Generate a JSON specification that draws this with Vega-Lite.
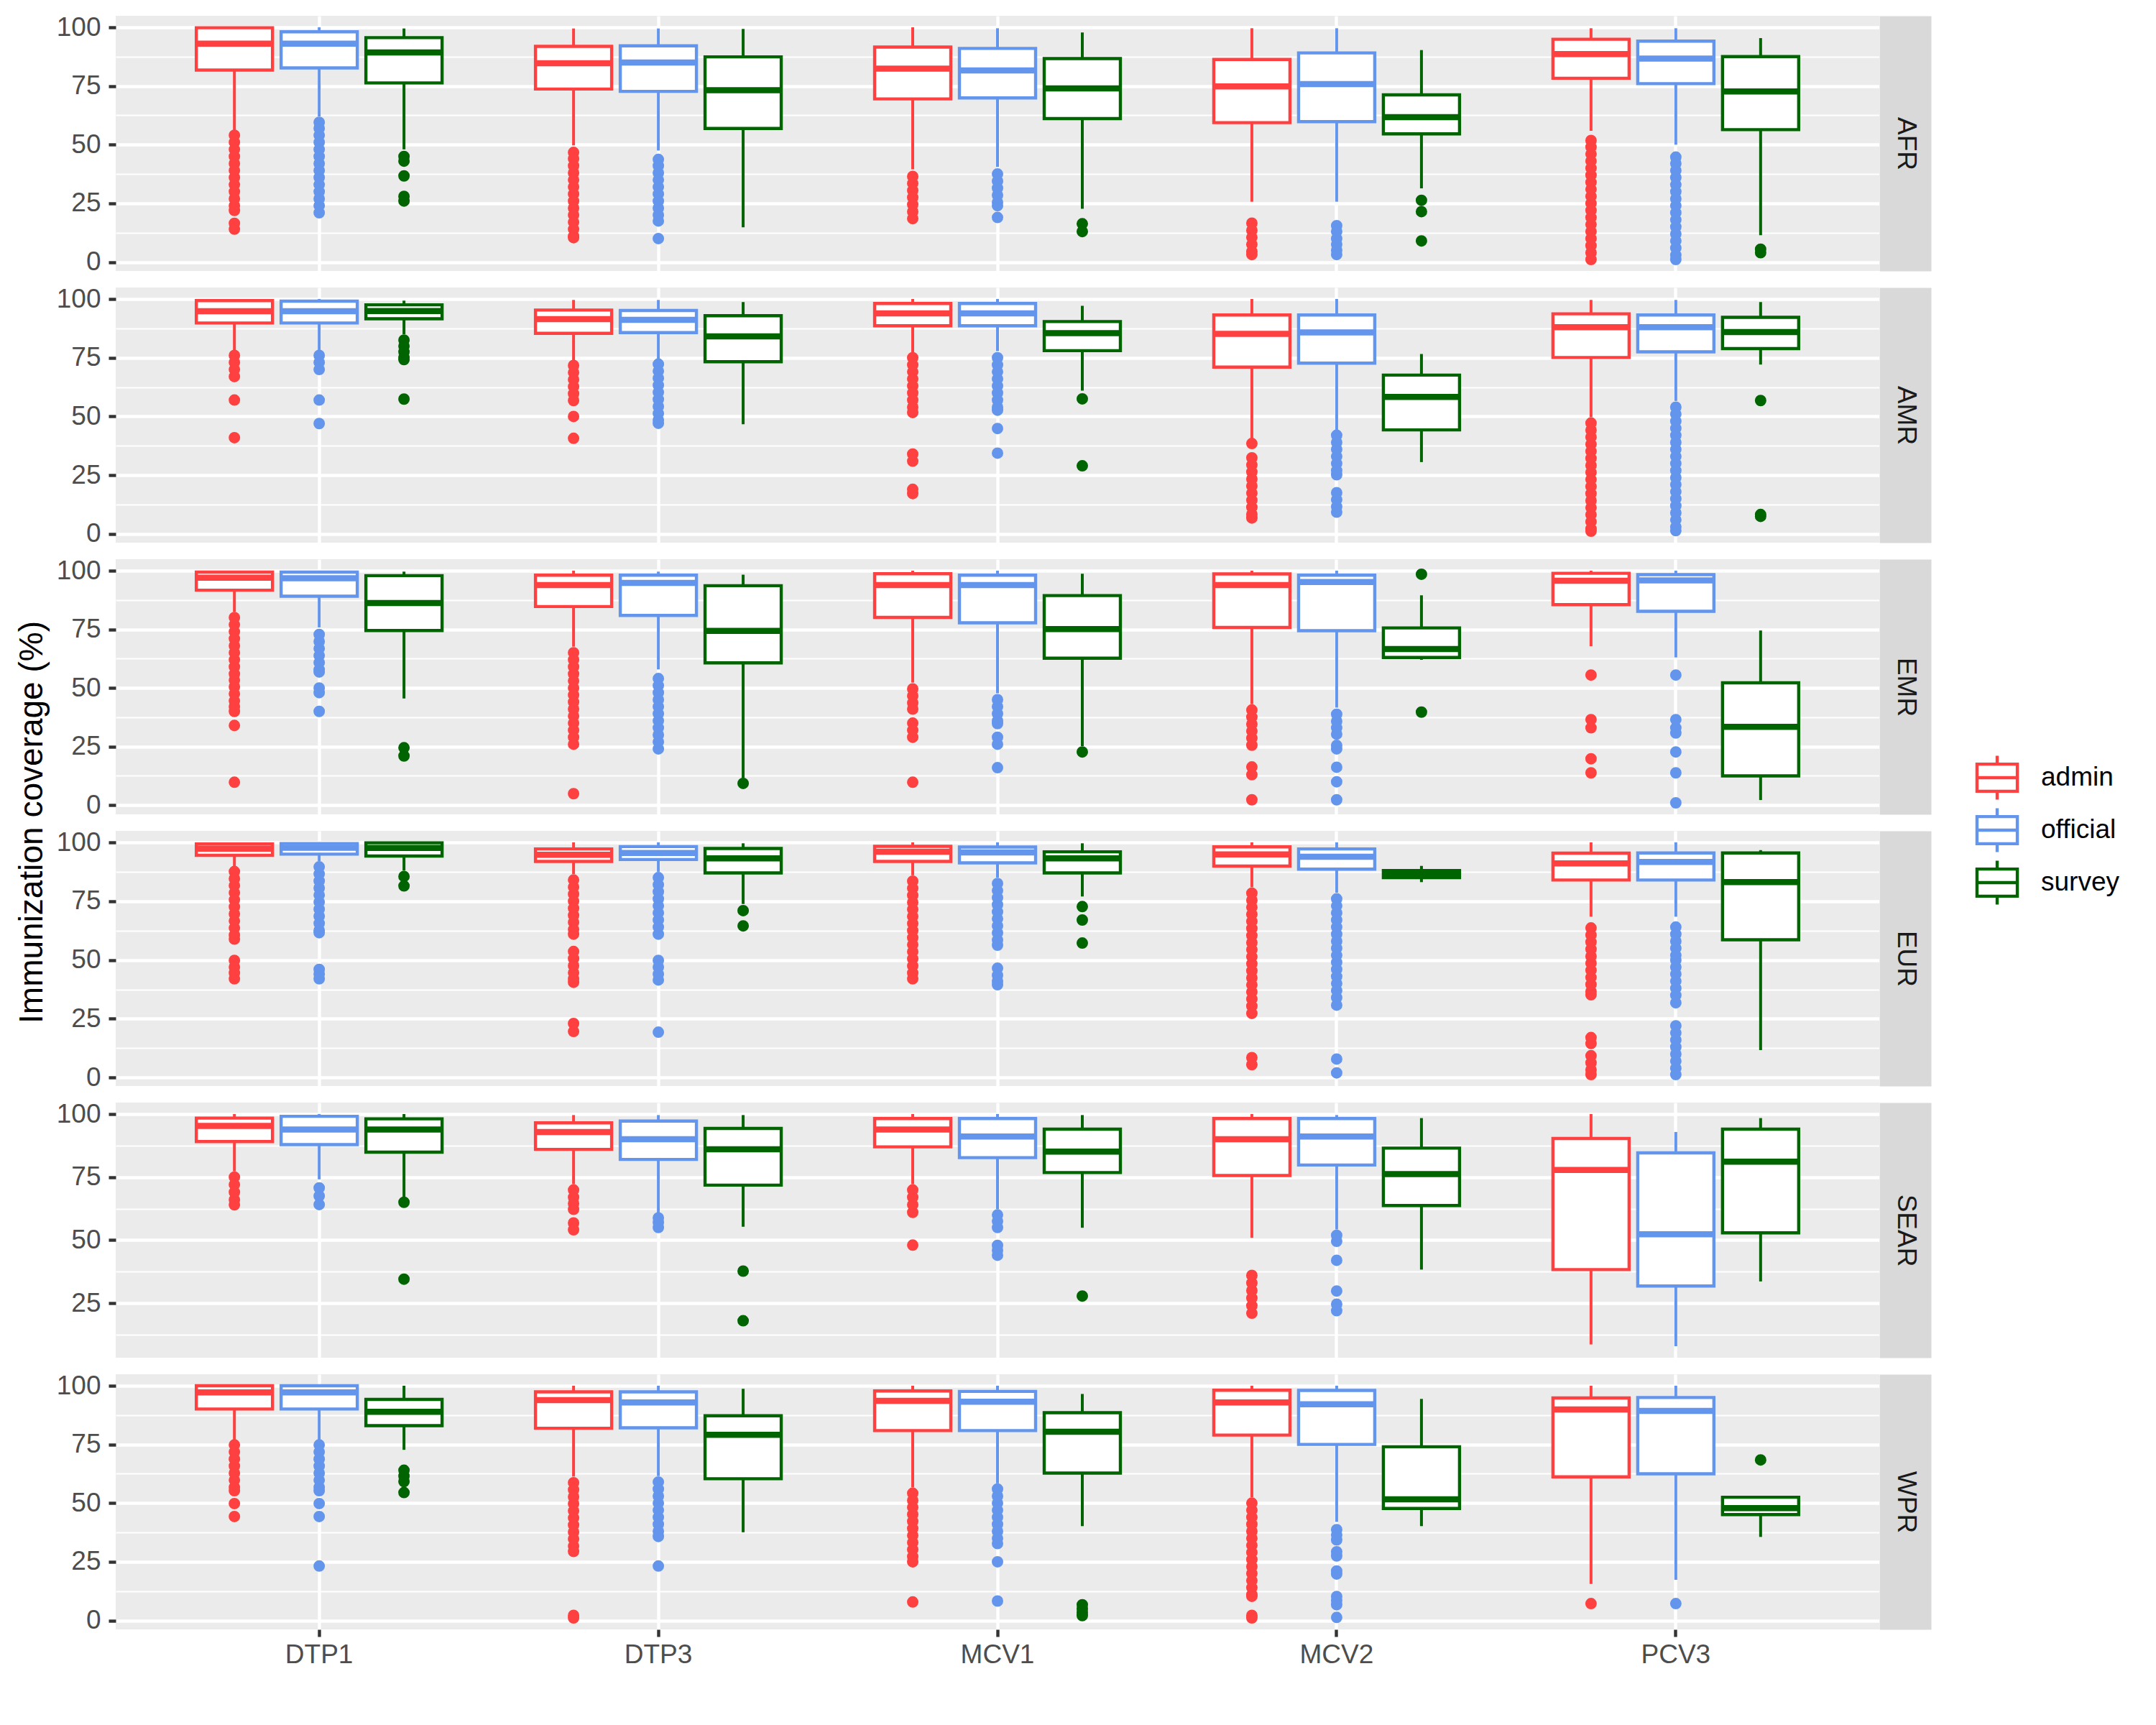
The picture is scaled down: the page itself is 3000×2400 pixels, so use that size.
{
  "$schema": "https://vega.github.io/schema/vega-lite/v6.json",
  "padding": {"left": 20, "top": 19, "right": 5, "bottom": 5},
  "bounds": "flush",
  "spacing": 23,
  "datasets": {
    "boxes": [
      {"r":"AFR","x":"DTP1","s":"admin","lo":56,"q1":81.8,"md":93,"q3":99.8,"hi":100},
      {"r":"AFR","x":"DTP1","s":"official","lo":62,"q1":82.7,"md":93,"q3":98.1,"hi":100},
      {"r":"AFR","x":"DTP1","s":"survey","lo":48,"q1":76.3,"md":89.3,"q3":95.6,"hi":99.5},
      {"r":"AFR","x":"DTP3","s":"admin","lo":49.7,"q1":73.7,"md":84.7,"q3":91.9,"hi":99.5},
      {"r":"AFR","x":"DTP3","s":"official","lo":47.5,"q1":72.7,"md":85,"q3":92.1,"hi":99.5},
      {"r":"AFR","x":"DTP3","s":"survey","lo":14.8,"q1":56.9,"md":73.2,"q3":87.4,"hi":99.3},
      {"r":"AFR","x":"MCV1","s":"admin","lo":39.5,"q1":69.5,"md":82.4,"q3":91.6,"hi":100},
      {"r":"AFR","x":"MCV1","s":"official","lo":40.5,"q1":69.9,"md":81.6,"q3":91,"hi":99.6},
      {"r":"AFR","x":"MCV1","s":"survey","lo":22.7,"q1":61.1,"md":74,"q3":86.7,"hi":97.8},
      {"r":"AFR","x":"MCV2","s":"admin","lo":25.7,"q1":59.4,"md":74.8,"q3":86.3,"hi":99.6},
      {"r":"AFR","x":"MCV2","s":"official","lo":25.7,"q1":59.8,"md":75.8,"q3":89.1,"hi":99.6},
      {"r":"AFR","x":"MCV2","s":"survey","lo":31.4,"q1":54.6,"md":61.7,"q3":71.2,"hi":90.3},
      {"r":"AFR","x":"PCV3","s":"admin","lo":55.9,"q1":78.3,"md":88.6,"q3":94.9,"hi":99.6},
      {"r":"AFR","x":"PCV3","s":"official","lo":50,"q1":76,"md":86.7,"q3":94.1,"hi":99.6},
      {"r":"AFR","x":"PCV3","s":"survey","lo":11.4,"q1":56.4,"md":72.7,"q3":87.5,"hi":95.4},
      {"r":"AMR","x":"DTP1","s":"admin","lo":77,"q1":89.8,"md":94.8,"q3":99.3,"hi":99.6},
      {"r":"AMR","x":"DTP1","s":"official","lo":78,"q1":89.8,"md":94.8,"q3":99.1,"hi":100},
      {"r":"AMR","x":"DTP1","s":"survey","lo":85,"q1":91.6,"md":94.9,"q3":97.5,"hi":99.3},
      {"r":"AMR","x":"DTP3","s":"admin","lo":74,"q1":85.4,"md":91.4,"q3":95.3,"hi":99.6},
      {"r":"AMR","x":"DTP3","s":"official","lo":74.5,"q1":85.7,"md":91.1,"q3":95.1,"hi":99.6},
      {"r":"AMR","x":"DTP3","s":"survey","lo":46.7,"q1":73.3,"md":84.1,"q3":92.9,"hi":98.7},
      {"r":"AMR","x":"MCV1","s":"admin","lo":77.3,"q1":88.6,"md":93.9,"q3":98.1,"hi":100},
      {"r":"AMR","x":"MCV1","s":"official","lo":77.8,"q1":88.6,"md":93.9,"q3":98.1,"hi":100},
      {"r":"AMR","x":"MCV1","s":"survey","lo":61,"q1":78,"md":85.5,"q3":90.4,"hi":97.1},
      {"r":"AMR","x":"MCV2","s":"admin","lo":40.5,"q1":71,"md":85.2,"q3":93.2,"hi":100},
      {"r":"AMR","x":"MCV2","s":"official","lo":44.3,"q1":72.7,"md":85.8,"q3":93.2,"hi":100},
      {"r":"AMR","x":"MCV2","s":"survey","lo":30.6,"q1":44.3,"md":58.3,"q3":67.6,"hi":76.6},
      {"r":"AMR","x":"PCV3","s":"admin","lo":49.7,"q1":75.1,"md":88,"q3":93.7,"hi":99.6},
      {"r":"AMR","x":"PCV3","s":"official","lo":56.6,"q1":77.5,"md":88,"q3":93.2,"hi":99.6},
      {"r":"AMR","x":"PCV3","s":"survey","lo":72.1,"q1":78.9,"md":85.9,"q3":92.2,"hi":98.7},
      {"r":"EMR","x":"DTP1","s":"admin","lo":82.4,"q1":91.7,"md":97,"q3":99.4,"hi":100},
      {"r":"EMR","x":"DTP1","s":"official","lo":75.8,"q1":89.1,"md":96.8,"q3":99.4,"hi":100},
      {"r":"EMR","x":"DTP1","s":"survey","lo":45.5,"q1":74.5,"md":86.2,"q3":97.9,"hi":99.6},
      {"r":"EMR","x":"DTP3","s":"admin","lo":67.6,"q1":84.7,"md":93.9,"q3":98.1,"hi":100},
      {"r":"EMR","x":"DTP3","s":"official","lo":57.9,"q1":80.9,"md":94.8,"q3":98.1,"hi":99.6},
      {"r":"EMR","x":"DTP3","s":"survey","lo":11.5,"q1":60.7,"md":74.3,"q3":93.6,"hi":98.3},
      {"r":"EMR","x":"MCV1","s":"admin","lo":52.3,"q1":80.1,"md":93.9,"q3":98.7,"hi":100},
      {"r":"EMR","x":"MCV1","s":"official","lo":47.7,"q1":77.8,"md":93.9,"q3":98.1,"hi":100},
      {"r":"EMR","x":"MCV1","s":"survey","lo":25.2,"q1":62.7,"md":75.1,"q3":89.4,"hi":98.7},
      {"r":"EMR","x":"MCV2","s":"admin","lo":43.1,"q1":75.8,"md":93.9,"q3":98.6,"hi":100},
      {"r":"EMR","x":"MCV2","s":"official","lo":41.6,"q1":74.4,"md":95.2,"q3":98.1,"hi":100},
      {"r":"EMR","x":"MCV2","s":"survey","lo":62,"q1":63,"md":66.6,"q3":75.6,"hi":89.5},
      {"r":"EMR","x":"PCV3","s":"admin","lo":67.8,"q1":85.5,"md":95.7,"q3":98.9,"hi":100},
      {"r":"EMR","x":"PCV3","s":"official","lo":63,"q1":82.7,"md":95.9,"q3":98.3,"hi":100},
      {"r":"EMR","x":"PCV3","s":"survey","lo":2.2,"q1":12.5,"md":33.4,"q3":52.2,"hi":74.5},
      {"r":"EUR","x":"DTP1","s":"admin","lo":88,"q1":94.5,"md":97.3,"q3":99.3,"hi":100},
      {"r":"EUR","x":"DTP1","s":"official","lo":92,"q1":95,"md":97.7,"q3":99.5,"hi":100},
      {"r":"EUR","x":"DTP1","s":"survey","lo":88,"q1":94.2,"md":97.6,"q3":99.8,"hi":100},
      {"r":"EUR","x":"DTP3","s":"admin","lo":86.5,"q1":91.9,"md":94.7,"q3":97.2,"hi":100},
      {"r":"EUR","x":"DTP3","s":"official","lo":87.5,"q1":92.7,"md":95.5,"q3":98.2,"hi":100},
      {"r":"EUR","x":"DTP3","s":"survey","lo":73.8,"q1":87,"md":93.2,"q3":97.4,"hi":99.6},
      {"r":"EUR","x":"MCV1","s":"admin","lo":86,"q1":91.9,"md":96,"q3":98.3,"hi":100},
      {"r":"EUR","x":"MCV1","s":"official","lo":85,"q1":91.3,"md":95.7,"q3":98,"hi":100},
      {"r":"EUR","x":"MCV1","s":"survey","lo":77,"q1":87,"md":93.2,"q3":96,"hi":99.6},
      {"r":"EUR","x":"MCV2","s":"admin","lo":80.9,"q1":89.9,"md":94.9,"q3":98.1,"hi":100},
      {"r":"EUR","x":"MCV2","s":"official","lo":78.6,"q1":88.6,"md":93.9,"q3":97.2,"hi":100},
      {"r":"EUR","x":"MCV2","s":"survey","lo":83.1,"q1":85,"md":86.4,"q3":88,"hi":90},
      {"r":"EUR","x":"PCV3","s":"admin","lo":68.4,"q1":84,"md":91.1,"q3":95.4,"hi":100},
      {"r":"EUR","x":"PCV3","s":"official","lo":68.4,"q1":84,"md":91.7,"q3":95.5,"hi":100},
      {"r":"EUR","x":"PCV3","s":"survey","lo":11.7,"q1":58.6,"md":83.1,"q3":95.5,"hi":96.7},
      {"r":"SEAR","x":"DTP1","s":"admin","lo":77.3,"q1":89.1,"md":95.3,"q3":98.4,"hi":100},
      {"r":"SEAR","x":"DTP1","s":"official","lo":74.1,"q1":87.9,"md":93.9,"q3":99.1,"hi":100},
      {"r":"SEAR","x":"DTP1","s":"survey","lo":67,"q1":84.9,"md":93.9,"q3":98.1,"hi":100},
      {"r":"SEAR","x":"DTP3","s":"admin","lo":72.2,"q1":86,"md":92.9,"q3":96.5,"hi":99.6},
      {"r":"SEAR","x":"DTP3","s":"official","lo":60.8,"q1":82,"md":90,"q3":97.2,"hi":99.6},
      {"r":"SEAR","x":"DTP3","s":"survey","lo":55.3,"q1":71.8,"md":86,"q3":94.3,"hi":99.6},
      {"r":"SEAR","x":"MCV1","s":"admin","lo":72.2,"q1":87,"md":93.9,"q3":98.2,"hi":100},
      {"r":"SEAR","x":"MCV1","s":"official","lo":62.3,"q1":82.7,"md":91.1,"q3":98.2,"hi":100},
      {"r":"SEAR","x":"MCV1","s":"survey","lo":54.9,"q1":76.8,"md":85.1,"q3":94,"hi":99.6},
      {"r":"SEAR","x":"MCV2","s":"admin","lo":50.9,"q1":75.6,"md":90,"q3":98.2,"hi":100},
      {"r":"SEAR","x":"MCV2","s":"official","lo":54.2,"q1":79.8,"md":91.1,"q3":98.2,"hi":99.6},
      {"r":"SEAR","x":"MCV2","s":"survey","lo":38.3,"q1":63.7,"md":76.2,"q3":86.5,"hi":98.4},
      {"r":"SEAR","x":"PCV3","s":"admin","lo":8.6,"q1":38.3,"md":77.8,"q3":90.3,"hi":100},
      {"r":"SEAR","x":"PCV3","s":"official","lo":7.9,"q1":31.8,"md":52.3,"q3":84.6,"hi":92.9},
      {"r":"SEAR","x":"PCV3","s":"survey","lo":33.6,"q1":52.9,"md":81.1,"q3":94,"hi":98.4},
      {"r":"WPR","x":"DTP1","s":"admin","lo":77,"q1":90.1,"md":97.2,"q3":100,"hi":100},
      {"r":"WPR","x":"DTP1","s":"official","lo":77,"q1":90.1,"md":97.2,"q3":100,"hi":100},
      {"r":"WPR","x":"DTP1","s":"survey","lo":72.7,"q1":83,"md":88.9,"q3":94.2,"hi":100},
      {"r":"WPR","x":"DTP3","s":"admin","lo":61.3,"q1":81.9,"md":93.9,"q3":97.4,"hi":100},
      {"r":"WPR","x":"DTP3","s":"official","lo":61.5,"q1":82.1,"md":92.9,"q3":97.4,"hi":100},
      {"r":"WPR","x":"DTP3","s":"survey","lo":37.6,"q1":60.4,"md":79.1,"q3":87.2,"hi":98.7},
      {"r":"WPR","x":"MCV1","s":"admin","lo":56.7,"q1":80.9,"md":93.6,"q3":97.8,"hi":100},
      {"r":"WPR","x":"MCV1","s":"official","lo":58.4,"q1":80.9,"md":93.2,"q3":97.6,"hi":100},
      {"r":"WPR","x":"MCV1","s":"survey","lo":40.2,"q1":62.8,"md":80.4,"q3":88.5,"hi":96.5},
      {"r":"WPR","x":"MCV2","s":"admin","lo":52.5,"q1":79,"md":92.9,"q3":98.1,"hi":100},
      {"r":"WPR","x":"MCV2","s":"official","lo":42,"q1":75,"md":92.1,"q3":98,"hi":100},
      {"r":"WPR","x":"MCV2","s":"survey","lo":40.2,"q1":47.7,"md":51.6,"q3":74,"hi":94.4},
      {"r":"WPR","x":"PCV3","s":"admin","lo":15.6,"q1":61.2,"md":89.9,"q3":94.8,"hi":100},
      {"r":"WPR","x":"PCV3","s":"official","lo":17.3,"q1":62.5,"md":89.3,"q3":95,"hi":100},
      {"r":"WPR","x":"PCV3","s":"survey","lo":35.6,"q1":45.1,"md":47.9,"q3":52.5,"hi":52.6}
    ],
    "outliers": [
      {"r":"AFR","x":"DTP1","s":"admin","v":54},{"r":"AFR","x":"DTP1","s":"admin","v":51},{"r":"AFR","x":"DTP1","s":"admin","v":48},{"r":"AFR","x":"DTP1","s":"admin","v":45},{"r":"AFR","x":"DTP1","s":"admin","v":42},{"r":"AFR","x":"DTP1","s":"admin","v":39},{"r":"AFR","x":"DTP1","s":"admin","v":36},{"r":"AFR","x":"DTP1","s":"admin","v":33},{"r":"AFR","x":"DTP1","s":"admin","v":30},{"r":"AFR","x":"DTP1","s":"admin","v":27},{"r":"AFR","x":"DTP1","s":"admin","v":24},{"r":"AFR","x":"DTP1","s":"admin","v":22},{"r":"AFR","x":"DTP1","s":"admin","v":16.5},{"r":"AFR","x":"DTP1","s":"admin","v":14},
      {"r":"AFR","x":"DTP1","s":"official","v":59.5},{"r":"AFR","x":"DTP1","s":"official","v":57},{"r":"AFR","x":"DTP1","s":"official","v":54},{"r":"AFR","x":"DTP1","s":"official","v":51},{"r":"AFR","x":"DTP1","s":"official","v":48},{"r":"AFR","x":"DTP1","s":"official","v":45},{"r":"AFR","x":"DTP1","s":"official","v":42},{"r":"AFR","x":"DTP1","s":"official","v":39},{"r":"AFR","x":"DTP1","s":"official","v":36},{"r":"AFR","x":"DTP1","s":"official","v":33},{"r":"AFR","x":"DTP1","s":"official","v":30},{"r":"AFR","x":"DTP1","s":"official","v":27},{"r":"AFR","x":"DTP1","s":"official","v":24},{"r":"AFR","x":"DTP1","s":"official","v":21},
      {"r":"AFR","x":"DTP1","s":"survey","v":45},{"r":"AFR","x":"DTP1","s":"survey","v":43},{"r":"AFR","x":"DTP1","s":"survey","v":36.7},{"r":"AFR","x":"DTP1","s":"survey","v":28},{"r":"AFR","x":"DTP1","s":"survey","v":26},
      {"r":"AFR","x":"DTP3","s":"admin","v":46.7},{"r":"AFR","x":"DTP3","s":"admin","v":44},{"r":"AFR","x":"DTP3","s":"admin","v":41},{"r":"AFR","x":"DTP3","s":"admin","v":38},{"r":"AFR","x":"DTP3","s":"admin","v":35},{"r":"AFR","x":"DTP3","s":"admin","v":32},{"r":"AFR","x":"DTP3","s":"admin","v":29},{"r":"AFR","x":"DTP3","s":"admin","v":26},{"r":"AFR","x":"DTP3","s":"admin","v":23},{"r":"AFR","x":"DTP3","s":"admin","v":20},{"r":"AFR","x":"DTP3","s":"admin","v":17},{"r":"AFR","x":"DTP3","s":"admin","v":14},{"r":"AFR","x":"DTP3","s":"admin","v":11},{"r":"AFR","x":"DTP3","s":"admin","v":10.4},
      {"r":"AFR","x":"DTP3","s":"official","v":43.7},{"r":"AFR","x":"DTP3","s":"official","v":41},{"r":"AFR","x":"DTP3","s":"official","v":38},{"r":"AFR","x":"DTP3","s":"official","v":35},{"r":"AFR","x":"DTP3","s":"official","v":32},{"r":"AFR","x":"DTP3","s":"official","v":29},{"r":"AFR","x":"DTP3","s":"official","v":26},{"r":"AFR","x":"DTP3","s":"official","v":23},{"r":"AFR","x":"DTP3","s":"official","v":20},{"r":"AFR","x":"DTP3","s":"official","v":17.5},{"r":"AFR","x":"DTP3","s":"official","v":10},
      {"r":"AFR","x":"MCV1","s":"admin","v":36.5},{"r":"AFR","x":"MCV1","s":"admin","v":33.5},{"r":"AFR","x":"MCV1","s":"admin","v":30.5},{"r":"AFR","x":"MCV1","s":"admin","v":27.5},{"r":"AFR","x":"MCV1","s":"admin","v":24.5},{"r":"AFR","x":"MCV1","s":"admin","v":21.5},{"r":"AFR","x":"MCV1","s":"admin","v":18.5},
      {"r":"AFR","x":"MCV1","s":"official","v":37.5},{"r":"AFR","x":"MCV1","s":"official","v":34.5},{"r":"AFR","x":"MCV1","s":"official","v":31.5},{"r":"AFR","x":"MCV1","s":"official","v":28.5},{"r":"AFR","x":"MCV1","s":"official","v":25.5},{"r":"AFR","x":"MCV1","s":"official","v":24},{"r":"AFR","x":"MCV1","s":"official","v":19},
      {"r":"AFR","x":"MCV1","s":"survey","v":16.3},{"r":"AFR","x":"MCV1","s":"survey","v":13},
      {"r":"AFR","x":"MCV2","s":"admin","v":16.6},{"r":"AFR","x":"MCV2","s":"admin","v":13.5},{"r":"AFR","x":"MCV2","s":"admin","v":10.5},{"r":"AFR","x":"MCV2","s":"admin","v":7.5},{"r":"AFR","x":"MCV2","s":"admin","v":4.5},{"r":"AFR","x":"MCV2","s":"admin","v":3.2},
      {"r":"AFR","x":"MCV2","s":"official","v":15.5},{"r":"AFR","x":"MCV2","s":"official","v":13},{"r":"AFR","x":"MCV2","s":"official","v":10},{"r":"AFR","x":"MCV2","s":"official","v":7.5},{"r":"AFR","x":"MCV2","s":"official","v":5},{"r":"AFR","x":"MCV2","s":"official","v":3.2},
      {"r":"AFR","x":"MCV2","s":"survey","v":26.3},{"r":"AFR","x":"MCV2","s":"survey","v":21.5},{"r":"AFR","x":"MCV2","s":"survey","v":9},
      {"r":"AFR","x":"PCV3","s":"admin","v":51.8},{"r":"AFR","x":"PCV3","s":"admin","v":49},{"r":"AFR","x":"PCV3","s":"admin","v":46},{"r":"AFR","x":"PCV3","s":"admin","v":43},{"r":"AFR","x":"PCV3","s":"admin","v":40},{"r":"AFR","x":"PCV3","s":"admin","v":37},{"r":"AFR","x":"PCV3","s":"admin","v":34},{"r":"AFR","x":"PCV3","s":"admin","v":31},{"r":"AFR","x":"PCV3","s":"admin","v":28},{"r":"AFR","x":"PCV3","s":"admin","v":25},{"r":"AFR","x":"PCV3","s":"admin","v":22},{"r":"AFR","x":"PCV3","s":"admin","v":19},{"r":"AFR","x":"PCV3","s":"admin","v":16},{"r":"AFR","x":"PCV3","s":"admin","v":13},{"r":"AFR","x":"PCV3","s":"admin","v":10},{"r":"AFR","x":"PCV3","s":"admin","v":7},{"r":"AFR","x":"PCV3","s":"admin","v":4},{"r":"AFR","x":"PCV3","s":"admin","v":1.1},
      {"r":"AFR","x":"PCV3","s":"official","v":44.7},{"r":"AFR","x":"PCV3","s":"official","v":42},{"r":"AFR","x":"PCV3","s":"official","v":39},{"r":"AFR","x":"PCV3","s":"official","v":36},{"r":"AFR","x":"PCV3","s":"official","v":33},{"r":"AFR","x":"PCV3","s":"official","v":30},{"r":"AFR","x":"PCV3","s":"official","v":27},{"r":"AFR","x":"PCV3","s":"official","v":24},{"r":"AFR","x":"PCV3","s":"official","v":21},{"r":"AFR","x":"PCV3","s":"official","v":18},{"r":"AFR","x":"PCV3","s":"official","v":15},{"r":"AFR","x":"PCV3","s":"official","v":12},{"r":"AFR","x":"PCV3","s":"official","v":9},{"r":"AFR","x":"PCV3","s":"official","v":6},{"r":"AFR","x":"PCV3","s":"official","v":3},{"r":"AFR","x":"PCV3","s":"official","v":1.1},
      {"r":"AFR","x":"PCV3","s":"survey","v":5.5},{"r":"AFR","x":"PCV3","s":"survey","v":4},
      {"r":"AMR","x":"DTP1","s":"admin","v":76},{"r":"AMR","x":"DTP1","s":"admin","v":73},{"r":"AMR","x":"DTP1","s":"admin","v":70},{"r":"AMR","x":"DTP1","s":"admin","v":67},{"r":"AMR","x":"DTP1","s":"admin","v":57},{"r":"AMR","x":"DTP1","s":"admin","v":41},
      {"r":"AMR","x":"DTP1","s":"official","v":76},{"r":"AMR","x":"DTP1","s":"official","v":73},{"r":"AMR","x":"DTP1","s":"official","v":70},{"r":"AMR","x":"DTP1","s":"official","v":57},{"r":"AMR","x":"DTP1","s":"official","v":47},
      {"r":"AMR","x":"DTP1","s":"survey","v":82.5},{"r":"AMR","x":"DTP1","s":"survey","v":80},{"r":"AMR","x":"DTP1","s":"survey","v":77.5},{"r":"AMR","x":"DTP1","s":"survey","v":75},{"r":"AMR","x":"DTP1","s":"survey","v":74.2},{"r":"AMR","x":"DTP1","s":"survey","v":57.4},
      {"r":"AMR","x":"DTP3","s":"admin","v":71.7},{"r":"AMR","x":"DTP3","s":"admin","v":68.7},{"r":"AMR","x":"DTP3","s":"admin","v":65.7},{"r":"AMR","x":"DTP3","s":"admin","v":62.7},{"r":"AMR","x":"DTP3","s":"admin","v":59.7},{"r":"AMR","x":"DTP3","s":"admin","v":56.8},{"r":"AMR","x":"DTP3","s":"admin","v":50},{"r":"AMR","x":"DTP3","s":"admin","v":40.7},
      {"r":"AMR","x":"DTP3","s":"official","v":72.3},{"r":"AMR","x":"DTP3","s":"official","v":69.3},{"r":"AMR","x":"DTP3","s":"official","v":66.3},{"r":"AMR","x":"DTP3","s":"official","v":63.3},{"r":"AMR","x":"DTP3","s":"official","v":60.3},{"r":"AMR","x":"DTP3","s":"official","v":57.3},{"r":"AMR","x":"DTP3","s":"official","v":54.3},{"r":"AMR","x":"DTP3","s":"official","v":51.3},{"r":"AMR","x":"DTP3","s":"official","v":48.5},{"r":"AMR","x":"DTP3","s":"official","v":47.1},
      {"r":"AMR","x":"MCV1","s":"admin","v":75},{"r":"AMR","x":"MCV1","s":"admin","v":72},{"r":"AMR","x":"MCV1","s":"admin","v":69},{"r":"AMR","x":"MCV1","s":"admin","v":66},{"r":"AMR","x":"MCV1","s":"admin","v":63},{"r":"AMR","x":"MCV1","s":"admin","v":60},{"r":"AMR","x":"MCV1","s":"admin","v":57},{"r":"AMR","x":"MCV1","s":"admin","v":54},{"r":"AMR","x":"MCV1","s":"admin","v":51.7},{"r":"AMR","x":"MCV1","s":"admin","v":34},{"r":"AMR","x":"MCV1","s":"admin","v":31},{"r":"AMR","x":"MCV1","s":"admin","v":19},{"r":"AMR","x":"MCV1","s":"admin","v":17.2},
      {"r":"AMR","x":"MCV1","s":"official","v":75},{"r":"AMR","x":"MCV1","s":"official","v":72},{"r":"AMR","x":"MCV1","s":"official","v":69},{"r":"AMR","x":"MCV1","s":"official","v":66},{"r":"AMR","x":"MCV1","s":"official","v":63},{"r":"AMR","x":"MCV1","s":"official","v":60},{"r":"AMR","x":"MCV1","s":"official","v":57},{"r":"AMR","x":"MCV1","s":"official","v":54},{"r":"AMR","x":"MCV1","s":"official","v":52.7},{"r":"AMR","x":"MCV1","s":"official","v":44.9},{"r":"AMR","x":"MCV1","s":"official","v":34.4},
      {"r":"AMR","x":"MCV1","s":"survey","v":57.5},{"r":"AMR","x":"MCV1","s":"survey","v":29},
      {"r":"AMR","x":"MCV2","s":"admin","v":38.5},{"r":"AMR","x":"MCV2","s":"admin","v":32.4},{"r":"AMR","x":"MCV2","s":"admin","v":29.4},{"r":"AMR","x":"MCV2","s":"admin","v":26.4},{"r":"AMR","x":"MCV2","s":"admin","v":23.4},{"r":"AMR","x":"MCV2","s":"admin","v":20.4},{"r":"AMR","x":"MCV2","s":"admin","v":17.4},{"r":"AMR","x":"MCV2","s":"admin","v":14.4},{"r":"AMR","x":"MCV2","s":"admin","v":11.4},{"r":"AMR","x":"MCV2","s":"admin","v":8.4},{"r":"AMR","x":"MCV2","s":"admin","v":6.8},
      {"r":"AMR","x":"MCV2","s":"official","v":42},{"r":"AMR","x":"MCV2","s":"official","v":39},{"r":"AMR","x":"MCV2","s":"official","v":36},{"r":"AMR","x":"MCV2","s":"official","v":33},{"r":"AMR","x":"MCV2","s":"official","v":30},{"r":"AMR","x":"MCV2","s":"official","v":27},{"r":"AMR","x":"MCV2","s":"official","v":25.2},{"r":"AMR","x":"MCV2","s":"official","v":17.6},{"r":"AMR","x":"MCV2","s":"official","v":14.6},{"r":"AMR","x":"MCV2","s":"official","v":11.6},{"r":"AMR","x":"MCV2","s":"official","v":9.3},
      {"r":"AMR","x":"PCV3","s":"admin","v":47.2},{"r":"AMR","x":"PCV3","s":"admin","v":44.2},{"r":"AMR","x":"PCV3","s":"admin","v":41.2},{"r":"AMR","x":"PCV3","s":"admin","v":38.2},{"r":"AMR","x":"PCV3","s":"admin","v":35.2},{"r":"AMR","x":"PCV3","s":"admin","v":32.2},{"r":"AMR","x":"PCV3","s":"admin","v":29.2},{"r":"AMR","x":"PCV3","s":"admin","v":26.2},{"r":"AMR","x":"PCV3","s":"admin","v":23.2},{"r":"AMR","x":"PCV3","s":"admin","v":20.2},{"r":"AMR","x":"PCV3","s":"admin","v":17.2},{"r":"AMR","x":"PCV3","s":"admin","v":14.2},{"r":"AMR","x":"PCV3","s":"admin","v":11.2},{"r":"AMR","x":"PCV3","s":"admin","v":8.2},{"r":"AMR","x":"PCV3","s":"admin","v":5.2},{"r":"AMR","x":"PCV3","s":"admin","v":2.2},{"r":"AMR","x":"PCV3","s":"admin","v":1.2},
      {"r":"AMR","x":"PCV3","s":"official","v":54},{"r":"AMR","x":"PCV3","s":"official","v":51},{"r":"AMR","x":"PCV3","s":"official","v":48},{"r":"AMR","x":"PCV3","s":"official","v":45},{"r":"AMR","x":"PCV3","s":"official","v":42},{"r":"AMR","x":"PCV3","s":"official","v":39},{"r":"AMR","x":"PCV3","s":"official","v":36},{"r":"AMR","x":"PCV3","s":"official","v":33},{"r":"AMR","x":"PCV3","s":"official","v":30},{"r":"AMR","x":"PCV3","s":"official","v":27},{"r":"AMR","x":"PCV3","s":"official","v":24},{"r":"AMR","x":"PCV3","s":"official","v":21},{"r":"AMR","x":"PCV3","s":"official","v":18},{"r":"AMR","x":"PCV3","s":"official","v":15},{"r":"AMR","x":"PCV3","s":"official","v":12},{"r":"AMR","x":"PCV3","s":"official","v":9},{"r":"AMR","x":"PCV3","s":"official","v":6},{"r":"AMR","x":"PCV3","s":"official","v":3},{"r":"AMR","x":"PCV3","s":"official","v":1.4},
      {"r":"AMR","x":"PCV3","s":"survey","v":56.8},{"r":"AMR","x":"PCV3","s":"survey","v":8.3},{"r":"AMR","x":"PCV3","s":"survey","v":7.5},
      {"r":"EMR","x":"DTP1","s":"admin","v":80},{"r":"EMR","x":"DTP1","s":"admin","v":77},{"r":"EMR","x":"DTP1","s":"admin","v":74},{"r":"EMR","x":"DTP1","s":"admin","v":71},{"r":"EMR","x":"DTP1","s":"admin","v":68},{"r":"EMR","x":"DTP1","s":"admin","v":65},{"r":"EMR","x":"DTP1","s":"admin","v":62},{"r":"EMR","x":"DTP1","s":"admin","v":59},{"r":"EMR","x":"DTP1","s":"admin","v":56},{"r":"EMR","x":"DTP1","s":"admin","v":53.3},{"r":"EMR","x":"DTP1","s":"admin","v":50.5},{"r":"EMR","x":"DTP1","s":"admin","v":47.5},{"r":"EMR","x":"DTP1","s":"admin","v":44.5},{"r":"EMR","x":"DTP1","s":"admin","v":42},{"r":"EMR","x":"DTP1","s":"admin","v":40},{"r":"EMR","x":"DTP1","s":"admin","v":34},{"r":"EMR","x":"DTP1","s":"admin","v":9.8},
      {"r":"EMR","x":"DTP1","s":"official","v":72.8},{"r":"EMR","x":"DTP1","s":"official","v":69.8},{"r":"EMR","x":"DTP1","s":"official","v":66.8},{"r":"EMR","x":"DTP1","s":"official","v":63.8},{"r":"EMR","x":"DTP1","s":"official","v":60.8},{"r":"EMR","x":"DTP1","s":"official","v":57.8},{"r":"EMR","x":"DTP1","s":"official","v":56.8},{"r":"EMR","x":"DTP1","s":"official","v":50},{"r":"EMR","x":"DTP1","s":"official","v":48},{"r":"EMR","x":"DTP1","s":"official","v":40},
      {"r":"EMR","x":"DTP1","s":"survey","v":24.5},{"r":"EMR","x":"DTP1","s":"survey","v":21},
      {"r":"EMR","x":"DTP3","s":"admin","v":65},{"r":"EMR","x":"DTP3","s":"admin","v":62},{"r":"EMR","x":"DTP3","s":"admin","v":59},{"r":"EMR","x":"DTP3","s":"admin","v":56},{"r":"EMR","x":"DTP3","s":"admin","v":53},{"r":"EMR","x":"DTP3","s":"admin","v":50},{"r":"EMR","x":"DTP3","s":"admin","v":47},{"r":"EMR","x":"DTP3","s":"admin","v":44},{"r":"EMR","x":"DTP3","s":"admin","v":41},{"r":"EMR","x":"DTP3","s":"admin","v":38},{"r":"EMR","x":"DTP3","s":"admin","v":35},{"r":"EMR","x":"DTP3","s":"admin","v":32},{"r":"EMR","x":"DTP3","s":"admin","v":29},{"r":"EMR","x":"DTP3","s":"admin","v":26},{"r":"EMR","x":"DTP3","s":"admin","v":4.9},
      {"r":"EMR","x":"DTP3","s":"official","v":54},{"r":"EMR","x":"DTP3","s":"official","v":51},{"r":"EMR","x":"DTP3","s":"official","v":48},{"r":"EMR","x":"DTP3","s":"official","v":45},{"r":"EMR","x":"DTP3","s":"official","v":42},{"r":"EMR","x":"DTP3","s":"official","v":39},{"r":"EMR","x":"DTP3","s":"official","v":36},{"r":"EMR","x":"DTP3","s":"official","v":33},{"r":"EMR","x":"DTP3","s":"official","v":30},{"r":"EMR","x":"DTP3","s":"official","v":27},{"r":"EMR","x":"DTP3","s":"official","v":24},
      {"r":"EMR","x":"DTP3","s":"survey","v":9.3},
      {"r":"EMR","x":"MCV1","s":"admin","v":49.6},{"r":"EMR","x":"MCV1","s":"admin","v":46.6},{"r":"EMR","x":"MCV1","s":"admin","v":43.6},{"r":"EMR","x":"MCV1","s":"admin","v":41},{"r":"EMR","x":"MCV1","s":"admin","v":35},{"r":"EMR","x":"MCV1","s":"admin","v":32},{"r":"EMR","x":"MCV1","s":"admin","v":29},{"r":"EMR","x":"MCV1","s":"admin","v":9.8},
      {"r":"EMR","x":"MCV1","s":"official","v":45},{"r":"EMR","x":"MCV1","s":"official","v":42},{"r":"EMR","x":"MCV1","s":"official","v":39},{"r":"EMR","x":"MCV1","s":"official","v":36},{"r":"EMR","x":"MCV1","s":"official","v":34.8},{"r":"EMR","x":"MCV1","s":"official","v":29},{"r":"EMR","x":"MCV1","s":"official","v":26},{"r":"EMR","x":"MCV1","s":"official","v":16},
      {"r":"EMR","x":"MCV1","s":"survey","v":22.7},
      {"r":"EMR","x":"MCV2","s":"admin","v":40.6},{"r":"EMR","x":"MCV2","s":"admin","v":37.6},{"r":"EMR","x":"MCV2","s":"admin","v":34.6},{"r":"EMR","x":"MCV2","s":"admin","v":31.6},{"r":"EMR","x":"MCV2","s":"admin","v":28.6},{"r":"EMR","x":"MCV2","s":"admin","v":25.6},{"r":"EMR","x":"MCV2","s":"admin","v":16.3},{"r":"EMR","x":"MCV2","s":"admin","v":13},{"r":"EMR","x":"MCV2","s":"admin","v":2.3},
      {"r":"EMR","x":"MCV2","s":"official","v":38.8},{"r":"EMR","x":"MCV2","s":"official","v":35.8},{"r":"EMR","x":"MCV2","s":"official","v":33},{"r":"EMR","x":"MCV2","s":"official","v":30.3},{"r":"EMR","x":"MCV2","s":"official","v":25.5},{"r":"EMR","x":"MCV2","s":"official","v":24},{"r":"EMR","x":"MCV2","s":"official","v":16.2},{"r":"EMR","x":"MCV2","s":"official","v":10},{"r":"EMR","x":"MCV2","s":"official","v":2.3},
      {"r":"EMR","x":"MCV2","s":"survey","v":98.5},{"r":"EMR","x":"MCV2","s":"survey","v":39.7},
      {"r":"EMR","x":"PCV3","s":"admin","v":55.5},{"r":"EMR","x":"PCV3","s":"admin","v":36.5},{"r":"EMR","x":"PCV3","s":"admin","v":33},{"r":"EMR","x":"PCV3","s":"admin","v":19.8},{"r":"EMR","x":"PCV3","s":"admin","v":13.8},
      {"r":"EMR","x":"PCV3","s":"official","v":55.5},{"r":"EMR","x":"PCV3","s":"official","v":36.5},{"r":"EMR","x":"PCV3","s":"official","v":33},{"r":"EMR","x":"PCV3","s":"official","v":30.8},{"r":"EMR","x":"PCV3","s":"official","v":22.7},{"r":"EMR","x":"PCV3","s":"official","v":13.8},{"r":"EMR","x":"PCV3","s":"official","v":1},
      {"r":"EUR","x":"DTP1","s":"admin","v":87.6},{"r":"EUR","x":"DTP1","s":"admin","v":84.6},{"r":"EUR","x":"DTP1","s":"admin","v":81.6},{"r":"EUR","x":"DTP1","s":"admin","v":78.6},{"r":"EUR","x":"DTP1","s":"admin","v":75.6},{"r":"EUR","x":"DTP1","s":"admin","v":72.6},{"r":"EUR","x":"DTP1","s":"admin","v":69.6},{"r":"EUR","x":"DTP1","s":"admin","v":66.6},{"r":"EUR","x":"DTP1","s":"admin","v":63.6},{"r":"EUR","x":"DTP1","s":"admin","v":60.6},{"r":"EUR","x":"DTP1","s":"admin","v":58.9},{"r":"EUR","x":"DTP1","s":"admin","v":49.8},{"r":"EUR","x":"DTP1","s":"admin","v":47},{"r":"EUR","x":"DTP1","s":"admin","v":44.5},{"r":"EUR","x":"DTP1","s":"admin","v":42},
      {"r":"EUR","x":"DTP1","s":"official","v":89.6},{"r":"EUR","x":"DTP1","s":"official","v":86.6},{"r":"EUR","x":"DTP1","s":"official","v":83.6},{"r":"EUR","x":"DTP1","s":"official","v":80.6},{"r":"EUR","x":"DTP1","s":"official","v":77.6},{"r":"EUR","x":"DTP1","s":"official","v":74.6},{"r":"EUR","x":"DTP1","s":"official","v":71.6},{"r":"EUR","x":"DTP1","s":"official","v":68.6},{"r":"EUR","x":"DTP1","s":"official","v":65.6},{"r":"EUR","x":"DTP1","s":"official","v":62.6},{"r":"EUR","x":"DTP1","s":"official","v":61.6},{"r":"EUR","x":"DTP1","s":"official","v":46},{"r":"EUR","x":"DTP1","s":"official","v":44},{"r":"EUR","x":"DTP1","s":"official","v":42},
      {"r":"EUR","x":"DTP1","s":"survey","v":85.5},{"r":"EUR","x":"DTP1","s":"survey","v":81.5},
      {"r":"EUR","x":"DTP3","s":"admin","v":84},{"r":"EUR","x":"DTP3","s":"admin","v":81},{"r":"EUR","x":"DTP3","s":"admin","v":78},{"r":"EUR","x":"DTP3","s":"admin","v":75},{"r":"EUR","x":"DTP3","s":"admin","v":72},{"r":"EUR","x":"DTP3","s":"admin","v":69},{"r":"EUR","x":"DTP3","s":"admin","v":66},{"r":"EUR","x":"DTP3","s":"admin","v":63},{"r":"EUR","x":"DTP3","s":"admin","v":61},{"r":"EUR","x":"DTP3","s":"admin","v":53.6},{"r":"EUR","x":"DTP3","s":"admin","v":50.6},{"r":"EUR","x":"DTP3","s":"admin","v":47.6},{"r":"EUR","x":"DTP3","s":"admin","v":44.6},{"r":"EUR","x":"DTP3","s":"admin","v":42},{"r":"EUR","x":"DTP3","s":"admin","v":40.5},{"r":"EUR","x":"DTP3","s":"admin","v":23},{"r":"EUR","x":"DTP3","s":"admin","v":19.6},
      {"r":"EUR","x":"DTP3","s":"official","v":85},{"r":"EUR","x":"DTP3","s":"official","v":82},{"r":"EUR","x":"DTP3","s":"official","v":79},{"r":"EUR","x":"DTP3","s":"official","v":76},{"r":"EUR","x":"DTP3","s":"official","v":73},{"r":"EUR","x":"DTP3","s":"official","v":70},{"r":"EUR","x":"DTP3","s":"official","v":67},{"r":"EUR","x":"DTP3","s":"official","v":64},{"r":"EUR","x":"DTP3","s":"official","v":61},{"r":"EUR","x":"DTP3","s":"official","v":49.8},{"r":"EUR","x":"DTP3","s":"official","v":47},{"r":"EUR","x":"DTP3","s":"official","v":44},{"r":"EUR","x":"DTP3","s":"official","v":41.5},{"r":"EUR","x":"DTP3","s":"official","v":19.3},
      {"r":"EUR","x":"DTP3","s":"survey","v":71},{"r":"EUR","x":"DTP3","s":"survey","v":64.5},
      {"r":"EUR","x":"MCV1","s":"admin","v":83.5},{"r":"EUR","x":"MCV1","s":"admin","v":80.5},{"r":"EUR","x":"MCV1","s":"admin","v":77.5},{"r":"EUR","x":"MCV1","s":"admin","v":74.5},{"r":"EUR","x":"MCV1","s":"admin","v":71.5},{"r":"EUR","x":"MCV1","s":"admin","v":68.5},{"r":"EUR","x":"MCV1","s":"admin","v":65.5},{"r":"EUR","x":"MCV1","s":"admin","v":62.5},{"r":"EUR","x":"MCV1","s":"admin","v":59.5},{"r":"EUR","x":"MCV1","s":"admin","v":56.5},{"r":"EUR","x":"MCV1","s":"admin","v":53.5},{"r":"EUR","x":"MCV1","s":"admin","v":50.5},{"r":"EUR","x":"MCV1","s":"admin","v":47.5},{"r":"EUR","x":"MCV1","s":"admin","v":44.5},{"r":"EUR","x":"MCV1","s":"admin","v":42},
      {"r":"EUR","x":"MCV1","s":"official","v":82.5},{"r":"EUR","x":"MCV1","s":"official","v":79.5},{"r":"EUR","x":"MCV1","s":"official","v":76.5},{"r":"EUR","x":"MCV1","s":"official","v":73.5},{"r":"EUR","x":"MCV1","s":"official","v":70.5},{"r":"EUR","x":"MCV1","s":"official","v":67.5},{"r":"EUR","x":"MCV1","s":"official","v":64.5},{"r":"EUR","x":"MCV1","s":"official","v":61.5},{"r":"EUR","x":"MCV1","s":"official","v":58.5},{"r":"EUR","x":"MCV1","s":"official","v":56.3},{"r":"EUR","x":"MCV1","s":"official","v":46.5},{"r":"EUR","x":"MCV1","s":"official","v":43.5},{"r":"EUR","x":"MCV1","s":"official","v":41},{"r":"EUR","x":"MCV1","s":"official","v":39.5},
      {"r":"EUR","x":"MCV1","s":"survey","v":72.7},{"r":"EUR","x":"MCV1","s":"survey","v":67},{"r":"EUR","x":"MCV1","s":"survey","v":57.2},
      {"r":"EUR","x":"MCV2","s":"admin","v":78.4},{"r":"EUR","x":"MCV2","s":"admin","v":75.4},{"r":"EUR","x":"MCV2","s":"admin","v":72.4},{"r":"EUR","x":"MCV2","s":"admin","v":69.4},{"r":"EUR","x":"MCV2","s":"admin","v":66.4},{"r":"EUR","x":"MCV2","s":"admin","v":63.4},{"r":"EUR","x":"MCV2","s":"admin","v":60.4},{"r":"EUR","x":"MCV2","s":"admin","v":57.4},{"r":"EUR","x":"MCV2","s":"admin","v":54.4},{"r":"EUR","x":"MCV2","s":"admin","v":51.4},{"r":"EUR","x":"MCV2","s":"admin","v":48.4},{"r":"EUR","x":"MCV2","s":"admin","v":45.4},{"r":"EUR","x":"MCV2","s":"admin","v":42.4},{"r":"EUR","x":"MCV2","s":"admin","v":39.4},{"r":"EUR","x":"MCV2","s":"admin","v":36.4},{"r":"EUR","x":"MCV2","s":"admin","v":33.4},{"r":"EUR","x":"MCV2","s":"admin","v":30.4},{"r":"EUR","x":"MCV2","s":"admin","v":27.3},{"r":"EUR","x":"MCV2","s":"admin","v":8.5},{"r":"EUR","x":"MCV2","s":"admin","v":5.5},
      {"r":"EUR","x":"MCV2","s":"official","v":76},{"r":"EUR","x":"MCV2","s":"official","v":73},{"r":"EUR","x":"MCV2","s":"official","v":70},{"r":"EUR","x":"MCV2","s":"official","v":67},{"r":"EUR","x":"MCV2","s":"official","v":64},{"r":"EUR","x":"MCV2","s":"official","v":61},{"r":"EUR","x":"MCV2","s":"official","v":58},{"r":"EUR","x":"MCV2","s":"official","v":55},{"r":"EUR","x":"MCV2","s":"official","v":52},{"r":"EUR","x":"MCV2","s":"official","v":49},{"r":"EUR","x":"MCV2","s":"official","v":46},{"r":"EUR","x":"MCV2","s":"official","v":43},{"r":"EUR","x":"MCV2","s":"official","v":40},{"r":"EUR","x":"MCV2","s":"official","v":37},{"r":"EUR","x":"MCV2","s":"official","v":34},{"r":"EUR","x":"MCV2","s":"official","v":30.8},{"r":"EUR","x":"MCV2","s":"official","v":7.9},{"r":"EUR","x":"MCV2","s":"official","v":2},
      {"r":"EUR","x":"PCV3","s":"admin","v":63.6},{"r":"EUR","x":"PCV3","s":"admin","v":60.6},{"r":"EUR","x":"PCV3","s":"admin","v":57.6},{"r":"EUR","x":"PCV3","s":"admin","v":54.6},{"r":"EUR","x":"PCV3","s":"admin","v":51.6},{"r":"EUR","x":"PCV3","s":"admin","v":48.6},{"r":"EUR","x":"PCV3","s":"admin","v":45.6},{"r":"EUR","x":"PCV3","s":"admin","v":42.6},{"r":"EUR","x":"PCV3","s":"admin","v":39.6},{"r":"EUR","x":"PCV3","s":"admin","v":36.6},{"r":"EUR","x":"PCV3","s":"admin","v":35.2},{"r":"EUR","x":"PCV3","s":"admin","v":17},{"r":"EUR","x":"PCV3","s":"admin","v":14.5},{"r":"EUR","x":"PCV3","s":"admin","v":9.3},{"r":"EUR","x":"PCV3","s":"admin","v":6.3},{"r":"EUR","x":"PCV3","s":"admin","v":3.3},{"r":"EUR","x":"PCV3","s":"admin","v":1.3},
      {"r":"EUR","x":"PCV3","s":"official","v":64},{"r":"EUR","x":"PCV3","s":"official","v":61},{"r":"EUR","x":"PCV3","s":"official","v":58},{"r":"EUR","x":"PCV3","s":"official","v":55},{"r":"EUR","x":"PCV3","s":"official","v":52},{"r":"EUR","x":"PCV3","s":"official","v":49.9},{"r":"EUR","x":"PCV3","s":"official","v":47},{"r":"EUR","x":"PCV3","s":"official","v":44},{"r":"EUR","x":"PCV3","s":"official","v":41},{"r":"EUR","x":"PCV3","s":"official","v":38},{"r":"EUR","x":"PCV3","s":"official","v":35},{"r":"EUR","x":"PCV3","s":"official","v":31.8},{"r":"EUR","x":"PCV3","s":"official","v":22},{"r":"EUR","x":"PCV3","s":"official","v":19},{"r":"EUR","x":"PCV3","s":"official","v":16},{"r":"EUR","x":"PCV3","s":"official","v":13},{"r":"EUR","x":"PCV3","s":"official","v":10},{"r":"EUR","x":"PCV3","s":"official","v":7},{"r":"EUR","x":"PCV3","s":"official","v":4},{"r":"EUR","x":"PCV3","s":"official","v":1.3},
      {"r":"SEAR","x":"DTP1","s":"admin","v":75},{"r":"SEAR","x":"DTP1","s":"admin","v":72},{"r":"SEAR","x":"DTP1","s":"admin","v":69},{"r":"SEAR","x":"DTP1","s":"admin","v":66},{"r":"SEAR","x":"DTP1","s":"admin","v":64},
      {"r":"SEAR","x":"DTP1","s":"official","v":70.7},{"r":"SEAR","x":"DTP1","s":"official","v":67.5},{"r":"SEAR","x":"DTP1","s":"official","v":64.1},
      {"r":"SEAR","x":"DTP1","s":"survey","v":65},{"r":"SEAR","x":"DTP1","s":"survey","v":34.5},
      {"r":"SEAR","x":"DTP3","s":"admin","v":69.9},{"r":"SEAR","x":"DTP3","s":"admin","v":67},{"r":"SEAR","x":"DTP3","s":"admin","v":64.5},{"r":"SEAR","x":"DTP3","s":"admin","v":62.2},{"r":"SEAR","x":"DTP3","s":"admin","v":56.8},{"r":"SEAR","x":"DTP3","s":"admin","v":54.1},
      {"r":"SEAR","x":"DTP3","s":"official","v":58.8},{"r":"SEAR","x":"DTP3","s":"official","v":57},{"r":"SEAR","x":"DTP3","s":"official","v":55},
      {"r":"SEAR","x":"DTP3","s":"survey","v":37.7},{"r":"SEAR","x":"DTP3","s":"survey","v":18},
      {"r":"SEAR","x":"MCV1","s":"admin","v":69.9},{"r":"SEAR","x":"MCV1","s":"admin","v":67},{"r":"SEAR","x":"MCV1","s":"admin","v":64},{"r":"SEAR","x":"MCV1","s":"admin","v":61},{"r":"SEAR","x":"MCV1","s":"admin","v":48},
      {"r":"SEAR","x":"MCV1","s":"official","v":60},{"r":"SEAR","x":"MCV1","s":"official","v":57.5},{"r":"SEAR","x":"MCV1","s":"official","v":55},{"r":"SEAR","x":"MCV1","s":"official","v":47.9},{"r":"SEAR","x":"MCV1","s":"official","v":46},{"r":"SEAR","x":"MCV1","s":"official","v":44},
      {"r":"SEAR","x":"MCV1","s":"survey","v":27.8},
      {"r":"SEAR","x":"MCV2","s":"admin","v":36},{"r":"SEAR","x":"MCV2","s":"admin","v":33},{"r":"SEAR","x":"MCV2","s":"admin","v":30},{"r":"SEAR","x":"MCV2","s":"admin","v":27},{"r":"SEAR","x":"MCV2","s":"admin","v":24},{"r":"SEAR","x":"MCV2","s":"admin","v":21},
      {"r":"SEAR","x":"MCV2","s":"official","v":51.9},{"r":"SEAR","x":"MCV2","s":"official","v":49.5},{"r":"SEAR","x":"MCV2","s":"official","v":42},{"r":"SEAR","x":"MCV2","s":"official","v":29.8},{"r":"SEAR","x":"MCV2","s":"official","v":24.6},{"r":"SEAR","x":"MCV2","s":"official","v":22},
      {"r":"WPR","x":"DTP1","s":"admin","v":74.8},{"r":"WPR","x":"DTP1","s":"admin","v":71.8},{"r":"WPR","x":"DTP1","s":"admin","v":68.8},{"r":"WPR","x":"DTP1","s":"admin","v":65.8},{"r":"WPR","x":"DTP1","s":"admin","v":62.8},{"r":"WPR","x":"DTP1","s":"admin","v":59.8},{"r":"WPR","x":"DTP1","s":"admin","v":56.8},{"r":"WPR","x":"DTP1","s":"admin","v":55.3},{"r":"WPR","x":"DTP1","s":"admin","v":49.8},{"r":"WPR","x":"DTP1","s":"admin","v":44.3},
      {"r":"WPR","x":"DTP1","s":"official","v":74.8},{"r":"WPR","x":"DTP1","s":"official","v":71.8},{"r":"WPR","x":"DTP1","s":"official","v":68.8},{"r":"WPR","x":"DTP1","s":"official","v":65.8},{"r":"WPR","x":"DTP1","s":"official","v":62.8},{"r":"WPR","x":"DTP1","s":"official","v":59.8},{"r":"WPR","x":"DTP1","s":"official","v":56.8},{"r":"WPR","x":"DTP1","s":"official","v":55.3},{"r":"WPR","x":"DTP1","s":"official","v":49.8},{"r":"WPR","x":"DTP1","s":"official","v":44.3},{"r":"WPR","x":"DTP1","s":"official","v":23.2},
      {"r":"WPR","x":"DTP1","s":"survey","v":64},{"r":"WPR","x":"DTP1","s":"survey","v":61.5},{"r":"WPR","x":"DTP1","s":"survey","v":59.2},{"r":"WPR","x":"DTP1","s":"survey","v":54.5},
      {"r":"WPR","x":"DTP3","s":"admin","v":58.7},{"r":"WPR","x":"DTP3","s":"admin","v":55.7},{"r":"WPR","x":"DTP3","s":"admin","v":52.7},{"r":"WPR","x":"DTP3","s":"admin","v":49.7},{"r":"WPR","x":"DTP3","s":"admin","v":46.7},{"r":"WPR","x":"DTP3","s":"admin","v":43.7},{"r":"WPR","x":"DTP3","s":"admin","v":40.7},{"r":"WPR","x":"DTP3","s":"admin","v":37.7},{"r":"WPR","x":"DTP3","s":"admin","v":34.7},{"r":"WPR","x":"DTP3","s":"admin","v":31.7},{"r":"WPR","x":"DTP3","s":"admin","v":29.4},{"r":"WPR","x":"DTP3","s":"admin","v":2.2},{"r":"WPR","x":"DTP3","s":"admin","v":1.1},
      {"r":"WPR","x":"DTP3","s":"official","v":59},{"r":"WPR","x":"DTP3","s":"official","v":56},{"r":"WPR","x":"DTP3","s":"official","v":53},{"r":"WPR","x":"DTP3","s":"official","v":50},{"r":"WPR","x":"DTP3","s":"official","v":47},{"r":"WPR","x":"DTP3","s":"official","v":44},{"r":"WPR","x":"DTP3","s":"official","v":41},{"r":"WPR","x":"DTP3","s":"official","v":38},{"r":"WPR","x":"DTP3","s":"official","v":35.8},{"r":"WPR","x":"DTP3","s":"official","v":23.2},
      {"r":"WPR","x":"MCV1","s":"admin","v":54.2},{"r":"WPR","x":"MCV1","s":"admin","v":51.2},{"r":"WPR","x":"MCV1","s":"admin","v":48.2},{"r":"WPR","x":"MCV1","s":"admin","v":45.2},{"r":"WPR","x":"MCV1","s":"admin","v":42.2},{"r":"WPR","x":"MCV1","s":"admin","v":39.2},{"r":"WPR","x":"MCV1","s":"admin","v":36.2},{"r":"WPR","x":"MCV1","s":"admin","v":33.2},{"r":"WPR","x":"MCV1","s":"admin","v":30.2},{"r":"WPR","x":"MCV1","s":"admin","v":27.2},{"r":"WPR","x":"MCV1","s":"admin","v":25},{"r":"WPR","x":"MCV1","s":"admin","v":7.9},
      {"r":"WPR","x":"MCV1","s":"official","v":56},{"r":"WPR","x":"MCV1","s":"official","v":53},{"r":"WPR","x":"MCV1","s":"official","v":50},{"r":"WPR","x":"MCV1","s":"official","v":47},{"r":"WPR","x":"MCV1","s":"official","v":44},{"r":"WPR","x":"MCV1","s":"official","v":41},{"r":"WPR","x":"MCV1","s":"official","v":38},{"r":"WPR","x":"MCV1","s":"official","v":35},{"r":"WPR","x":"MCV1","s":"official","v":32.8},{"r":"WPR","x":"MCV1","s":"official","v":25},{"r":"WPR","x":"MCV1","s":"official","v":8.3},
      {"r":"WPR","x":"MCV1","s":"survey","v":6.7},{"r":"WPR","x":"MCV1","s":"survey","v":5},{"r":"WPR","x":"MCV1","s":"survey","v":3.5},{"r":"WPR","x":"MCV1","s":"survey","v":2.1},
      {"r":"WPR","x":"MCV2","s":"admin","v":50},{"r":"WPR","x":"MCV2","s":"admin","v":47},{"r":"WPR","x":"MCV2","s":"admin","v":44},{"r":"WPR","x":"MCV2","s":"admin","v":41},{"r":"WPR","x":"MCV2","s":"admin","v":38},{"r":"WPR","x":"MCV2","s":"admin","v":35},{"r":"WPR","x":"MCV2","s":"admin","v":32},{"r":"WPR","x":"MCV2","s":"admin","v":29},{"r":"WPR","x":"MCV2","s":"admin","v":26},{"r":"WPR","x":"MCV2","s":"admin","v":23},{"r":"WPR","x":"MCV2","s":"admin","v":20},{"r":"WPR","x":"MCV2","s":"admin","v":17},{"r":"WPR","x":"MCV2","s":"admin","v":14},{"r":"WPR","x":"MCV2","s":"admin","v":11},{"r":"WPR","x":"MCV2","s":"admin","v":10.3},{"r":"WPR","x":"MCV2","s":"admin","v":2.2},{"r":"WPR","x":"MCV2","s":"admin","v":1.1},
      {"r":"WPR","x":"MCV2","s":"official","v":38.7},{"r":"WPR","x":"MCV2","s":"official","v":36.5},{"r":"WPR","x":"MCV2","s":"official","v":34.3},{"r":"WPR","x":"MCV2","s":"official","v":29.3},{"r":"WPR","x":"MCV2","s":"official","v":27.5},{"r":"WPR","x":"MCV2","s":"official","v":21.1},{"r":"WPR","x":"MCV2","s":"official","v":19.8},{"r":"WPR","x":"MCV2","s":"official","v":10.2},{"r":"WPR","x":"MCV2","s":"official","v":8.5},{"r":"WPR","x":"MCV2","s":"official","v":6.7},{"r":"WPR","x":"MCV2","s":"official","v":1.3},
      {"r":"WPR","x":"PCV3","s":"admin","v":7.2},
      {"r":"WPR","x":"PCV3","s":"official","v":7.2},
      {"r":"WPR","x":"PCV3","s":"survey","v":68.4}
    ]
  },
  "vconcat": [
    {
      "width": 2454, "height": 355,
      "layer": [
        {"layer": [
          {"data": {"name": "boxes"}, "transform": [{"filter": "datum.r == 'AFR'"}],
           "mark": {"type": "bar", "fill": "white", "strokeWidth": 4.4},
           "encoding": {
             "x": {"field": "x", "type": "nominal", "scale": {"domain": ["DTP1","DTP3","MCV1","MCV2","PCV3"], "paddingInner": 0, "paddingOuter": 0.1}, "axis": {"title": null, "labels": false, "ticks": false, "grid": true, "gridWidth": 4.4, "bandPosition": 0.5}},
             "xOffset": {"field": "s", "type": "nominal", "scale": {"domain": ["admin","official","survey"], "paddingInner": 0.1017, "paddingOuter": 0.5508}},
             "y": {"field": "q1", "type": "quantitative", "scale": {"zero": false, "nice": false, "padding": 16}, "axis": {"title": null, "values": [0,12.5,25,37.5,50,62.5,75,87.5,100], "labelExpr": "datum.value % 25 == 0 ? format(datum.value, 'd') : ''", "tickOpacity": {"condition": {"test": "datum.value % 25 != 0", "value": 0}, "value": 1}, "gridWidth": {"condition": {"test": "datum.value % 25 != 0", "value": 2.2}, "value": 4.4}, "grid": true, "labelOverlap": false, "labelPadding": 11}},
             "y2": {"field": "q3"},
             "stroke": {"field": "s", "type": "nominal", "scale": {"domain": ["admin","official","survey"], "range": ["#FF4040","#6495ED","#006400"]},
               "legend": {"title": null, "orient": "none", "legendX": 2585, "legendY": 1027, "symbolType": "M-0.92,-0.62H0.92V0.62H-0.92Z M-0.92,0H0.92 M0,-0.62V-1 M0,0.62V1", "symbolSize": 3721, "symbolStrokeWidth": 4.4, "symbolFillColor": "white", "labelFontSize": 37, "labelColor": "black", "labelOffset": 28, "rowPadding": -10, "padding": 0}}
           }},
          {"data": {"name": "boxes"}, "transform": [{"filter": "datum.r == 'AFR'"}],
           "mark": {"type": "rule", "strokeWidth": 4},
           "encoding": {"x": {"field": "x", "type": "nominal", "title": null}, "xOffset": {"field": "s", "type": "nominal"}, "y": {"field": "lo", "type": "quantitative", "title": null}, "y2": {"field": "q1"}, "stroke": {"field": "s", "type": "nominal", "legend": null}}},
          {"data": {"name": "boxes"}, "transform": [{"filter": "datum.r == 'AFR'"}],
           "mark": {"type": "rule", "strokeWidth": 4},
           "encoding": {"x": {"field": "x", "type": "nominal", "title": null}, "xOffset": {"field": "s", "type": "nominal"}, "y": {"field": "q3", "type": "quantitative", "title": null}, "y2": {"field": "hi"}, "stroke": {"field": "s", "type": "nominal", "legend": null}}},
          {"data": {"name": "boxes"}, "transform": [{"filter": "datum.r == 'AFR'"}],
           "mark": {"type": "tick", "thickness": 0.5, "size": 97.5, "orient": "horizontal", "filled": false, "strokeWidth": 8, "opacity": 1},
           "encoding": {"x": {"field": "x", "type": "nominal", "title": null}, "xOffset": {"field": "s", "type": "nominal"}, "y": {"field": "md", "type": "quantitative", "title": null}, "stroke": {"field": "s", "type": "nominal", "legend": null}}},
          {"data": {"name": "outliers"}, "transform": [{"filter": "datum.r == 'AFR'"}],
           "mark": {"type": "circle", "size": 64, "filled": false, "strokeWidth": 8, "opacity": 1},
           "encoding": {"x": {"field": "x", "type": "nominal", "title": null}, "xOffset": {"field": "s", "type": "nominal"}, "y": {"field": "v", "type": "quantitative", "title": null}, "stroke": {"field": "s", "type": "nominal", "legend": null}}}
        ]},
        {"data": {"name": "boxes"}, "transform": [{"filter": "datum.r == 'AFR'"}],
         "mark": {"type": "rule", "opacity": 0},
         "encoding": {"y": {"datum": 0, "type": "quantitative", "scale": {"domain": [0, 1]}, "axis": {"orient": "right", "offset": 36, "domain": true, "domainColor": "#D9D9D9", "domainWidth": 72, "domainCap": "butt", "ticks": false, "labels": false, "grid": false, "title": "AFR", "titleAngle": 90, "titleX": 0, "titleY": 177.5, "titleAlign": "center", "titleBaseline": "middle", "titleFontSize": 37, "titleFontWeight": "normal", "titleColor": "#1A1A1A", "titlePadding": 0}}}}
      ],
      "resolve": {"scale": {"y": "independent"}}
    },
    {
      "width": 2454, "height": 355,
      "layer": [
        {"layer": [
          {"data": {"name": "boxes"}, "transform": [{"filter": "datum.r == 'AMR'"}],
           "mark": {"type": "bar", "fill": "white", "strokeWidth": 4.4},
           "encoding": {
             "x": {"field": "x", "type": "nominal", "scale": {"domain": ["DTP1","DTP3","MCV1","MCV2","PCV3"], "paddingInner": 0, "paddingOuter": 0.1}, "axis": {"title": null, "labels": false, "ticks": false, "grid": true, "gridWidth": 4.4, "bandPosition": 0.5}},
             "xOffset": {"field": "s", "type": "nominal", "scale": {"domain": ["admin","official","survey"], "paddingInner": 0.1017, "paddingOuter": 0.5508}},
             "y": {"field": "q1", "type": "quantitative", "scale": {"zero": false, "nice": false, "padding": 16}, "axis": {"title": null, "values": [0,12.5,25,37.5,50,62.5,75,87.5,100], "labelExpr": "datum.value % 25 == 0 ? format(datum.value, 'd') : ''", "tickOpacity": {"condition": {"test": "datum.value % 25 != 0", "value": 0}, "value": 1}, "gridWidth": {"condition": {"test": "datum.value % 25 != 0", "value": 2.2}, "value": 4.4}, "grid": true, "labelOverlap": false, "labelPadding": 11}},
             "y2": {"field": "q3"},
             "stroke": {"field": "s", "type": "nominal", "scale": {"domain": ["admin","official","survey"], "range": ["#FF4040","#6495ED","#006400"]}, "legend": null}
           }},
          {"data": {"name": "boxes"}, "transform": [{"filter": "datum.r == 'AMR'"}],
           "mark": {"type": "rule", "strokeWidth": 4},
           "encoding": {"x": {"field": "x", "type": "nominal", "title": null}, "xOffset": {"field": "s", "type": "nominal"}, "y": {"field": "lo", "type": "quantitative", "title": null}, "y2": {"field": "q1"}, "stroke": {"field": "s", "type": "nominal", "legend": null}}},
          {"data": {"name": "boxes"}, "transform": [{"filter": "datum.r == 'AMR'"}],
           "mark": {"type": "rule", "strokeWidth": 4},
           "encoding": {"x": {"field": "x", "type": "nominal", "title": null}, "xOffset": {"field": "s", "type": "nominal"}, "y": {"field": "q3", "type": "quantitative", "title": null}, "y2": {"field": "hi"}, "stroke": {"field": "s", "type": "nominal", "legend": null}}},
          {"data": {"name": "boxes"}, "transform": [{"filter": "datum.r == 'AMR'"}],
           "mark": {"type": "tick", "thickness": 0.5, "size": 97.5, "orient": "horizontal", "filled": false, "strokeWidth": 8, "opacity": 1},
           "encoding": {"x": {"field": "x", "type": "nominal", "title": null}, "xOffset": {"field": "s", "type": "nominal"}, "y": {"field": "md", "type": "quantitative", "title": null}, "stroke": {"field": "s", "type": "nominal", "legend": null}}},
          {"data": {"name": "outliers"}, "transform": [{"filter": "datum.r == 'AMR'"}],
           "mark": {"type": "circle", "size": 64, "filled": false, "strokeWidth": 8, "opacity": 1},
           "encoding": {"x": {"field": "x", "type": "nominal", "title": null}, "xOffset": {"field": "s", "type": "nominal"}, "y": {"field": "v", "type": "quantitative", "title": null}, "stroke": {"field": "s", "type": "nominal", "legend": null}}}
        ]},
        {"data": {"name": "boxes"}, "transform": [{"filter": "datum.r == 'AMR'"}],
         "mark": {"type": "rule", "opacity": 0},
         "encoding": {"y": {"datum": 0, "type": "quantitative", "scale": {"domain": [0, 1]}, "axis": {"orient": "right", "offset": 36, "domain": true, "domainColor": "#D9D9D9", "domainWidth": 72, "domainCap": "butt", "ticks": false, "labels": false, "grid": false, "title": "AMR", "titleAngle": 90, "titleX": 0, "titleY": 177.5, "titleAlign": "center", "titleBaseline": "middle", "titleFontSize": 37, "titleFontWeight": "normal", "titleColor": "#1A1A1A", "titlePadding": 0}}}}
      ],
      "resolve": {"scale": {"y": "independent"}}
    },
    {
      "width": 2454, "height": 355,
      "layer": [
        {"layer": [
          {"data": {"name": "boxes"}, "transform": [{"filter": "datum.r == 'EMR'"}],
           "mark": {"type": "bar", "fill": "white", "strokeWidth": 4.4},
           "encoding": {
             "x": {"field": "x", "type": "nominal", "scale": {"domain": ["DTP1","DTP3","MCV1","MCV2","PCV3"], "paddingInner": 0, "paddingOuter": 0.1}, "axis": {"title": null, "labels": false, "ticks": false, "grid": true, "gridWidth": 4.4, "bandPosition": 0.5}},
             "xOffset": {"field": "s", "type": "nominal", "scale": {"domain": ["admin","official","survey"], "paddingInner": 0.1017, "paddingOuter": 0.5508}},
             "y": {"field": "q1", "type": "quantitative", "title": "Immunization coverage (%)", "scale": {"zero": false, "nice": false, "padding": 16}, "axis": {"title": "Immunization coverage (%)", "titleX": -103, "titleY": 365.5, "titleAngle": 270, "titleAlign": "center", "titleBaseline": "alphabetic", "titleFontSize": 46, "titleFontWeight": "normal", "titleColor": "black", "values": [0,12.5,25,37.5,50,62.5,75,87.5,100], "labelExpr": "datum.value % 25 == 0 ? format(datum.value, 'd') : ''", "tickOpacity": {"condition": {"test": "datum.value % 25 != 0", "value": 0}, "value": 1}, "gridWidth": {"condition": {"test": "datum.value % 25 != 0", "value": 2.2}, "value": 4.4}, "grid": true, "labelOverlap": false, "labelPadding": 11}},
             "y2": {"field": "q3"},
             "stroke": {"field": "s", "type": "nominal", "scale": {"domain": ["admin","official","survey"], "range": ["#FF4040","#6495ED","#006400"]}, "legend": null}
           }},
          {"data": {"name": "boxes"}, "transform": [{"filter": "datum.r == 'EMR'"}],
           "mark": {"type": "rule", "strokeWidth": 4},
           "encoding": {"x": {"field": "x", "type": "nominal", "title": null}, "xOffset": {"field": "s", "type": "nominal"}, "y": {"field": "lo", "type": "quantitative", "title": "Immunization coverage (%)"}, "y2": {"field": "q1"}, "stroke": {"field": "s", "type": "nominal", "legend": null}}},
          {"data": {"name": "boxes"}, "transform": [{"filter": "datum.r == 'EMR'"}],
           "mark": {"type": "rule", "strokeWidth": 4},
           "encoding": {"x": {"field": "x", "type": "nominal", "title": null}, "xOffset": {"field": "s", "type": "nominal"}, "y": {"field": "q3", "type": "quantitative", "title": "Immunization coverage (%)"}, "y2": {"field": "hi"}, "stroke": {"field": "s", "type": "nominal", "legend": null}}},
          {"data": {"name": "boxes"}, "transform": [{"filter": "datum.r == 'EMR'"}],
           "mark": {"type": "tick", "thickness": 0.5, "size": 97.5, "orient": "horizontal", "filled": false, "strokeWidth": 8, "opacity": 1},
           "encoding": {"x": {"field": "x", "type": "nominal", "title": null}, "xOffset": {"field": "s", "type": "nominal"}, "y": {"field": "md", "type": "quantitative", "title": "Immunization coverage (%)"}, "stroke": {"field": "s", "type": "nominal", "legend": null}}},
          {"data": {"name": "outliers"}, "transform": [{"filter": "datum.r == 'EMR'"}],
           "mark": {"type": "circle", "size": 64, "filled": false, "strokeWidth": 8, "opacity": 1},
           "encoding": {"x": {"field": "x", "type": "nominal", "title": null}, "xOffset": {"field": "s", "type": "nominal"}, "y": {"field": "v", "type": "quantitative", "title": "Immunization coverage (%)"}, "stroke": {"field": "s", "type": "nominal", "legend": null}}}
        ]},
        {"data": {"name": "boxes"}, "transform": [{"filter": "datum.r == 'EMR'"}],
         "mark": {"type": "rule", "opacity": 0},
         "encoding": {"y": {"datum": 0, "type": "quantitative", "scale": {"domain": [0, 1]}, "axis": {"orient": "right", "offset": 36, "domain": true, "domainColor": "#D9D9D9", "domainWidth": 72, "domainCap": "butt", "ticks": false, "labels": false, "grid": false, "title": "EMR", "titleAngle": 90, "titleX": 0, "titleY": 177.5, "titleAlign": "center", "titleBaseline": "middle", "titleFontSize": 37, "titleFontWeight": "normal", "titleColor": "#1A1A1A", "titlePadding": 0}}}}
      ],
      "resolve": {"scale": {"y": "independent"}}
    },
    {
      "width": 2454, "height": 355,
      "layer": [
        {"layer": [
          {"data": {"name": "boxes"}, "transform": [{"filter": "datum.r == 'EUR'"}],
           "mark": {"type": "bar", "fill": "white", "strokeWidth": 4.4},
           "encoding": {
             "x": {"field": "x", "type": "nominal", "scale": {"domain": ["DTP1","DTP3","MCV1","MCV2","PCV3"], "paddingInner": 0, "paddingOuter": 0.1}, "axis": {"title": null, "labels": false, "ticks": false, "grid": true, "gridWidth": 4.4, "bandPosition": 0.5}},
             "xOffset": {"field": "s", "type": "nominal", "scale": {"domain": ["admin","official","survey"], "paddingInner": 0.1017, "paddingOuter": 0.5508}},
             "y": {"field": "q1", "type": "quantitative", "scale": {"zero": false, "nice": false, "padding": 16}, "axis": {"title": null, "values": [0,12.5,25,37.5,50,62.5,75,87.5,100], "labelExpr": "datum.value % 25 == 0 ? format(datum.value, 'd') : ''", "tickOpacity": {"condition": {"test": "datum.value % 25 != 0", "value": 0}, "value": 1}, "gridWidth": {"condition": {"test": "datum.value % 25 != 0", "value": 2.2}, "value": 4.4}, "grid": true, "labelOverlap": false, "labelPadding": 11}},
             "y2": {"field": "q3"},
             "stroke": {"field": "s", "type": "nominal", "scale": {"domain": ["admin","official","survey"], "range": ["#FF4040","#6495ED","#006400"]}, "legend": null}
           }},
          {"data": {"name": "boxes"}, "transform": [{"filter": "datum.r == 'EUR'"}],
           "mark": {"type": "rule", "strokeWidth": 4},
           "encoding": {"x": {"field": "x", "type": "nominal", "title": null}, "xOffset": {"field": "s", "type": "nominal"}, "y": {"field": "lo", "type": "quantitative", "title": null}, "y2": {"field": "q1"}, "stroke": {"field": "s", "type": "nominal", "legend": null}}},
          {"data": {"name": "boxes"}, "transform": [{"filter": "datum.r == 'EUR'"}],
           "mark": {"type": "rule", "strokeWidth": 4},
           "encoding": {"x": {"field": "x", "type": "nominal", "title": null}, "xOffset": {"field": "s", "type": "nominal"}, "y": {"field": "q3", "type": "quantitative", "title": null}, "y2": {"field": "hi"}, "stroke": {"field": "s", "type": "nominal", "legend": null}}},
          {"data": {"name": "boxes"}, "transform": [{"filter": "datum.r == 'EUR'"}],
           "mark": {"type": "tick", "thickness": 0.5, "size": 97.5, "orient": "horizontal", "filled": false, "strokeWidth": 8, "opacity": 1},
           "encoding": {"x": {"field": "x", "type": "nominal", "title": null}, "xOffset": {"field": "s", "type": "nominal"}, "y": {"field": "md", "type": "quantitative", "title": null}, "stroke": {"field": "s", "type": "nominal", "legend": null}}},
          {"data": {"name": "outliers"}, "transform": [{"filter": "datum.r == 'EUR'"}],
           "mark": {"type": "circle", "size": 64, "filled": false, "strokeWidth": 8, "opacity": 1},
           "encoding": {"x": {"field": "x", "type": "nominal", "title": null}, "xOffset": {"field": "s", "type": "nominal"}, "y": {"field": "v", "type": "quantitative", "title": null}, "stroke": {"field": "s", "type": "nominal", "legend": null}}}
        ]},
        {"data": {"name": "boxes"}, "transform": [{"filter": "datum.r == 'EUR'"}],
         "mark": {"type": "rule", "opacity": 0},
         "encoding": {"y": {"datum": 0, "type": "quantitative", "scale": {"domain": [0, 1]}, "axis": {"orient": "right", "offset": 36, "domain": true, "domainColor": "#D9D9D9", "domainWidth": 72, "domainCap": "butt", "ticks": false, "labels": false, "grid": false, "title": "EUR", "titleAngle": 90, "titleX": 0, "titleY": 177.5, "titleAlign": "center", "titleBaseline": "middle", "titleFontSize": 37, "titleFontWeight": "normal", "titleColor": "#1A1A1A", "titlePadding": 0}}}}
      ],
      "resolve": {"scale": {"y": "independent"}}
    },
    {
      "width": 2454, "height": 355,
      "layer": [
        {"layer": [
          {"data": {"name": "boxes"}, "transform": [{"filter": "datum.r == 'SEAR'"}],
           "mark": {"type": "bar", "fill": "white", "strokeWidth": 4.4},
           "encoding": {
             "x": {"field": "x", "type": "nominal", "scale": {"domain": ["DTP1","DTP3","MCV1","MCV2","PCV3"], "paddingInner": 0, "paddingOuter": 0.1}, "axis": {"title": null, "labels": false, "ticks": false, "grid": true, "gridWidth": 4.4, "bandPosition": 0.5}},
             "xOffset": {"field": "s", "type": "nominal", "scale": {"domain": ["admin","official","survey"], "paddingInner": 0.1017, "paddingOuter": 0.5508}},
             "y": {"field": "q1", "type": "quantitative", "scale": {"zero": false, "nice": false, "padding": 16}, "axis": {"title": null, "values": [0,12.5,25,37.5,50,62.5,75,87.5,100], "labelExpr": "datum.value % 25 == 0 ? format(datum.value, 'd') : ''", "tickOpacity": {"condition": {"test": "datum.value % 25 != 0", "value": 0}, "value": 1}, "gridWidth": {"condition": {"test": "datum.value % 25 != 0", "value": 2.2}, "value": 4.4}, "grid": true, "labelOverlap": false, "labelPadding": 11}},
             "y2": {"field": "q3"},
             "stroke": {"field": "s", "type": "nominal", "scale": {"domain": ["admin","official","survey"], "range": ["#FF4040","#6495ED","#006400"]}, "legend": null}
           }},
          {"data": {"name": "boxes"}, "transform": [{"filter": "datum.r == 'SEAR'"}],
           "mark": {"type": "rule", "strokeWidth": 4},
           "encoding": {"x": {"field": "x", "type": "nominal", "title": null}, "xOffset": {"field": "s", "type": "nominal"}, "y": {"field": "lo", "type": "quantitative", "title": null}, "y2": {"field": "q1"}, "stroke": {"field": "s", "type": "nominal", "legend": null}}},
          {"data": {"name": "boxes"}, "transform": [{"filter": "datum.r == 'SEAR'"}],
           "mark": {"type": "rule", "strokeWidth": 4},
           "encoding": {"x": {"field": "x", "type": "nominal", "title": null}, "xOffset": {"field": "s", "type": "nominal"}, "y": {"field": "q3", "type": "quantitative", "title": null}, "y2": {"field": "hi"}, "stroke": {"field": "s", "type": "nominal", "legend": null}}},
          {"data": {"name": "boxes"}, "transform": [{"filter": "datum.r == 'SEAR'"}],
           "mark": {"type": "tick", "thickness": 0.5, "size": 97.5, "orient": "horizontal", "filled": false, "strokeWidth": 8, "opacity": 1},
           "encoding": {"x": {"field": "x", "type": "nominal", "title": null}, "xOffset": {"field": "s", "type": "nominal"}, "y": {"field": "md", "type": "quantitative", "title": null}, "stroke": {"field": "s", "type": "nominal", "legend": null}}},
          {"data": {"name": "outliers"}, "transform": [{"filter": "datum.r == 'SEAR'"}],
           "mark": {"type": "circle", "size": 64, "filled": false, "strokeWidth": 8, "opacity": 1},
           "encoding": {"x": {"field": "x", "type": "nominal", "title": null}, "xOffset": {"field": "s", "type": "nominal"}, "y": {"field": "v", "type": "quantitative", "title": null}, "stroke": {"field": "s", "type": "nominal", "legend": null}}}
        ]},
        {"data": {"name": "boxes"}, "transform": [{"filter": "datum.r == 'SEAR'"}],
         "mark": {"type": "rule", "opacity": 0},
         "encoding": {"y": {"datum": 0, "type": "quantitative", "scale": {"domain": [0, 1]}, "axis": {"orient": "right", "offset": 36, "domain": true, "domainColor": "#D9D9D9", "domainWidth": 72, "domainCap": "butt", "ticks": false, "labels": false, "grid": false, "title": "SEAR", "titleAngle": 90, "titleX": 0, "titleY": 177.5, "titleAlign": "center", "titleBaseline": "middle", "titleFontSize": 37, "titleFontWeight": "normal", "titleColor": "#1A1A1A", "titlePadding": 0}}}}
      ],
      "resolve": {"scale": {"y": "independent"}}
    },
    {
      "width": 2454, "height": 355,
      "layer": [
        {"layer": [
          {"data": {"name": "boxes"}, "transform": [{"filter": "datum.r == 'WPR'"}],
           "mark": {"type": "bar", "fill": "white", "strokeWidth": 4.4},
           "encoding": {
             "x": {"field": "x", "type": "nominal", "scale": {"domain": ["DTP1","DTP3","MCV1","MCV2","PCV3"], "paddingInner": 0, "paddingOuter": 0.1}, "axis": {"title": null, "grid": true, "gridWidth": 4.4, "bandPosition": 0.5, "labelPadding": 7, "labelAngle": 0}},
             "xOffset": {"field": "s", "type": "nominal", "scale": {"domain": ["admin","official","survey"], "paddingInner": 0.1017, "paddingOuter": 0.5508}},
             "y": {"field": "q1", "type": "quantitative", "scale": {"zero": false, "nice": false, "padding": 16}, "axis": {"title": null, "values": [0,12.5,25,37.5,50,62.5,75,87.5,100], "labelExpr": "datum.value % 25 == 0 ? format(datum.value, 'd') : ''", "tickOpacity": {"condition": {"test": "datum.value % 25 != 0", "value": 0}, "value": 1}, "gridWidth": {"condition": {"test": "datum.value % 25 != 0", "value": 2.2}, "value": 4.4}, "grid": true, "labelOverlap": false, "labelPadding": 11}},
             "y2": {"field": "q3"},
             "stroke": {"field": "s", "type": "nominal", "scale": {"domain": ["admin","official","survey"], "range": ["#FF4040","#6495ED","#006400"]}, "legend": null}
           }},
          {"data": {"name": "boxes"}, "transform": [{"filter": "datum.r == 'WPR'"}],
           "mark": {"type": "rule", "strokeWidth": 4},
           "encoding": {"x": {"field": "x", "type": "nominal", "title": null}, "xOffset": {"field": "s", "type": "nominal"}, "y": {"field": "lo", "type": "quantitative", "title": null}, "y2": {"field": "q1"}, "stroke": {"field": "s", "type": "nominal", "legend": null}}},
          {"data": {"name": "boxes"}, "transform": [{"filter": "datum.r == 'WPR'"}],
           "mark": {"type": "rule", "strokeWidth": 4},
           "encoding": {"x": {"field": "x", "type": "nominal", "title": null}, "xOffset": {"field": "s", "type": "nominal"}, "y": {"field": "q3", "type": "quantitative", "title": null}, "y2": {"field": "hi"}, "stroke": {"field": "s", "type": "nominal", "legend": null}}},
          {"data": {"name": "boxes"}, "transform": [{"filter": "datum.r == 'WPR'"}],
           "mark": {"type": "tick", "thickness": 0.5, "size": 97.5, "orient": "horizontal", "filled": false, "strokeWidth": 8, "opacity": 1},
           "encoding": {"x": {"field": "x", "type": "nominal", "title": null}, "xOffset": {"field": "s", "type": "nominal"}, "y": {"field": "md", "type": "quantitative", "title": null}, "stroke": {"field": "s", "type": "nominal", "legend": null}}},
          {"data": {"name": "outliers"}, "transform": [{"filter": "datum.r == 'WPR'"}],
           "mark": {"type": "circle", "size": 64, "filled": false, "strokeWidth": 8, "opacity": 1},
           "encoding": {"x": {"field": "x", "type": "nominal", "title": null}, "xOffset": {"field": "s", "type": "nominal"}, "y": {"field": "v", "type": "quantitative", "title": null}, "stroke": {"field": "s", "type": "nominal", "legend": null}}}
        ]},
        {"data": {"name": "boxes"}, "transform": [{"filter": "datum.r == 'WPR'"}],
         "mark": {"type": "rule", "opacity": 0},
         "encoding": {"y": {"datum": 0, "type": "quantitative", "scale": {"domain": [0, 1]}, "axis": {"orient": "right", "offset": 36, "domain": true, "domainColor": "#D9D9D9", "domainWidth": 72, "domainCap": "butt", "ticks": false, "labels": false, "grid": false, "title": "WPR", "titleAngle": 90, "titleX": 0, "titleY": 177.5, "titleAlign": "center", "titleBaseline": "middle", "titleFontSize": 37, "titleFontWeight": "normal", "titleColor": "#1A1A1A", "titlePadding": 0}}}}
      ],
      "resolve": {"scale": {"y": "independent"}}
    }
  ],
  "resolve": {"scale": {"stroke": "shared", "x": "independent", "y": "independent"}},
  "config": {
    "font": "Liberation Sans",
    "view": {"fill": "#EBEBEB", "stroke": null},
    "axis": {"labelFontSize": 37, "labelColor": "#4D4D4D", "labelFont": "Liberation Sans", "tickColor": "#333333", "tickSize": 10, "tickWidth": 4.4, "domain": false, "gridColor": "#FFFFFF"},
    "legend": {"labelFont": "Liberation Sans", "symbolFillColor": "white"}
  }
}
